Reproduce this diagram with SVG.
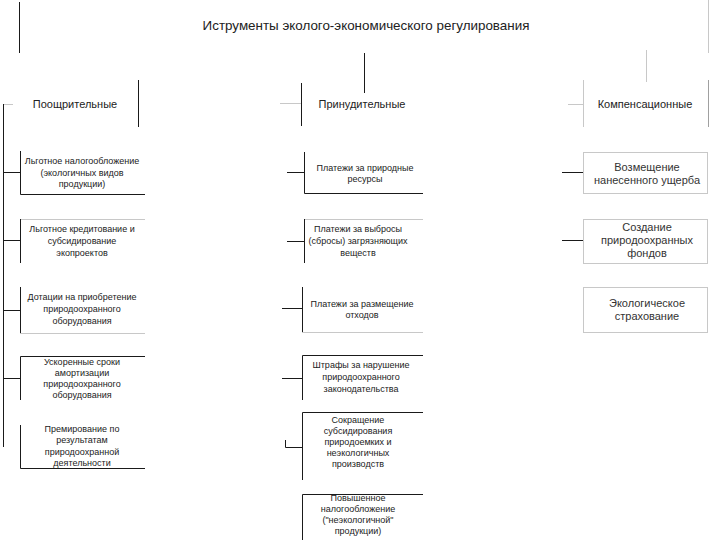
<svg xmlns="http://www.w3.org/2000/svg" width="720" height="540" viewBox="0 0 720 540">
<style>
.d{stroke:#1a1a1a;stroke-width:1;fill:none}
.l{stroke:#c8c8c8;stroke-width:1;fill:none}
.g{stroke:#a0a0a0;stroke-width:1;fill:none}
text{font-family:"Liberation Sans",Arial,sans-serif;fill:#222;text-anchor:middle}
.t0{font-size:13.4px}
.t1{font-size:11px}
.t2{font-size:9px}
.t3{font-size:11px;fill:#333}
</style>
<rect width="720" height="540" fill="#fff"/>
<g id="connectors">
<line class="d" x1="364.5" y1="53" x2="364.5" y2="93"/>
<line class="l" x1="646.5" y1="50" x2="646.5" y2="82"/>
<line class="l" x1="3" y1="104.5" x2="13" y2="104.5"/>
<line class="d" x1="3.5" y1="104" x2="3.5" y2="447"/>
<line class="l" x1="280" y1="103.5" x2="301" y2="103.5"/>
<line class="l" x1="568" y1="104.5" x2="583" y2="104.5"/>
<line class="d" x1="3" y1="172.5" x2="20" y2="172.5"/>
<line class="d" x1="3" y1="240.5" x2="20" y2="240.5"/>
<line class="d" x1="3" y1="310.5" x2="20" y2="310.5"/>
<line class="d" x1="3" y1="378.5" x2="20" y2="378.5"/>
<line class="d" x1="287" y1="172.5" x2="304" y2="172.5"/>
<line class="d" x1="287" y1="241.5" x2="304" y2="241.5"/>
<line class="d" x1="282" y1="308.5" x2="302" y2="308.5"/>
<line class="d" x1="282" y1="378.5" x2="302" y2="378.5"/>
<polyline class="d" points="285.5,440 285.5,447.5 302,447.5"/>
<line class="d" x1="562" y1="172.5" x2="583" y2="172.5"/>
<line class="d" x1="562" y1="240.5" x2="583" y2="240.5"/>
</g>
<g id="root">
<line class="d" x1="19.5" y1="2" x2="19.5" y2="53"/>
<line class="l" x1="708.5" y1="0" x2="708.5" y2="53"/>
<text class="t0" x="366" y="30">Иструменты эколого-экономического регулирования</text>
</g>
<g id="poosch">
<line class="d" x1="138.5" y1="80" x2="138.5" y2="127"/>
<text class="t1" x="75" y="108">Поощрительные</text>
</g>
<g id="prinud">
<line class="d" x1="301.5" y1="83" x2="301.5" y2="126"/>
<text class="t1" x="362" y="108">Принудительные</text>
</g>
<g id="komp">
<line class="l" x1="583.5" y1="80" x2="583.5" y2="127"/>
<line class="g" x1="708.5" y1="80" x2="708.5" y2="127"/>
<text class="t1" x="645" y="108">Компенсационные</text>
</g>
<g id="l1">
<polyline class="d" points="20.5,151 20.5,194.5 145,194.5"/>
<text class="t2" x="82" y="164">Льготное налогообложение</text>
<text class="t2" x="82" y="176">(экологичных видов</text>
<text class="t2" x="82" y="187">продукции)</text>
</g>
<g id="l2">
<line class="l" x1="20" y1="219.5" x2="145" y2="219.5"/>
<line class="d" x1="20.5" y1="219" x2="20.5" y2="263"/>
<text class="t2" x="82" y="232">Льготное кредитование и</text>
<text class="t2" x="82" y="244">субсидирование</text>
<text class="t2" x="82" y="256">экопроектов</text>
</g>
<g id="l3">
<line class="d" x1="20.5" y1="287" x2="20.5" y2="333"/>
<line class="l" x1="20" y1="333.5" x2="145" y2="333.5"/>
<text class="t2" x="82" y="300">Дотации на приобретение</text>
<text class="t2" x="82" y="312">природоохранного</text>
<text class="t2" x="82" y="324">оборудования</text>
</g>
<g id="l4">
<polyline class="d" points="145,356.5 20.5,356.5 20.5,400"/>
<text class="t2" x="82" y="365">Ускоренные сроки</text>
<text class="t2" x="82" y="376">амортизации</text>
<text class="t2" x="82" y="387">природоохранного</text>
<text class="t2" x="82" y="398">оборудования</text>
</g>
<g id="l5">
<polyline class="d" points="20.5,425 20.5,468.5 145,468.5"/>
<text class="t2" x="82" y="432">Премирование по</text>
<text class="t2" x="82" y="443">результатам</text>
<text class="t2" x="82" y="455">природоохранной</text>
<text class="t2" x="82" y="466">деятельности</text>
</g>
<g id="m1">
<polyline class="d" points="304.5,152 304.5,193.5 423,193.5"/>
<text class="t2" x="365" y="171">Платежи за природные</text>
<text class="t2" x="365" y="182">ресурсы</text>
</g>
<g id="m2">
<line class="l" x1="304" y1="219.5" x2="423" y2="219.5"/>
<line class="d" x1="304.5" y1="219" x2="304.5" y2="263"/>
<text class="t2" x="358" y="232">Платежи за выбросы</text>
<text class="t2" x="358" y="244">(сбросы) загрязняющих</text>
<text class="t2" x="358" y="256">веществ</text>
</g>
<g id="m3">
<line class="d" x1="302.5" y1="287" x2="302.5" y2="332"/>
<line class="l" x1="302" y1="332.5" x2="423" y2="332.5"/>
<text class="t2" x="362" y="307">Платежи за размещение</text>
<text class="t2" x="362" y="318">отходов</text>
</g>
<g id="m4">
<polyline class="d" points="423,355.5 302.5,355.5 302.5,400"/>
<text class="t2" x="361" y="368">Штрафы за нарушение</text>
<text class="t2" x="361" y="380">природоохранного</text>
<text class="t2" x="361" y="392">законодательства</text>
</g>
<g id="m5">
<polyline class="d" points="423,412.5 302.5,412.5 302.5,480"/>
<text class="t2" x="358" y="423">Сокращение</text>
<text class="t2" x="358" y="434">субсидирования</text>
<text class="t2" x="358" y="445">природоемких и</text>
<text class="t2" x="358" y="456">неэкологичных</text>
<text class="t2" x="358" y="467">производств</text>
</g>
<g id="m6">
<polyline class="d" points="423,494.5 302.5,494.5 302.5,540"/>
<text class="t2" x="358" y="501">Повышенное</text>
<text class="t2" x="358" y="512">налогообложение</text>
<text class="t2" x="358" y="523">("неэкологичной"</text>
<text class="t2" x="358" y="534">продукции)</text>
</g>
<g id="r1">
<rect class="l" x="583.5" y="152.5" width="124" height="41"/>
<text class="t3" x="647" y="171">Возмещение</text>
<text class="t3" x="647" y="184">нанесенного ущерба</text>
</g>
<g id="r2">
<rect class="l" x="583.5" y="219.5" width="124" height="44"/>
<text class="t3" x="647" y="231">Создание</text>
<text class="t3" x="647" y="244">природоохранных</text>
<text class="t3" x="647" y="257">фондов</text>
</g>
<g id="r3">
<rect class="l" x="583.5" y="287.5" width="124" height="45"/>
<text class="t3" x="647" y="307">Экологическое</text>
<text class="t3" x="647" y="320">страхование</text>
</g>
</svg>
